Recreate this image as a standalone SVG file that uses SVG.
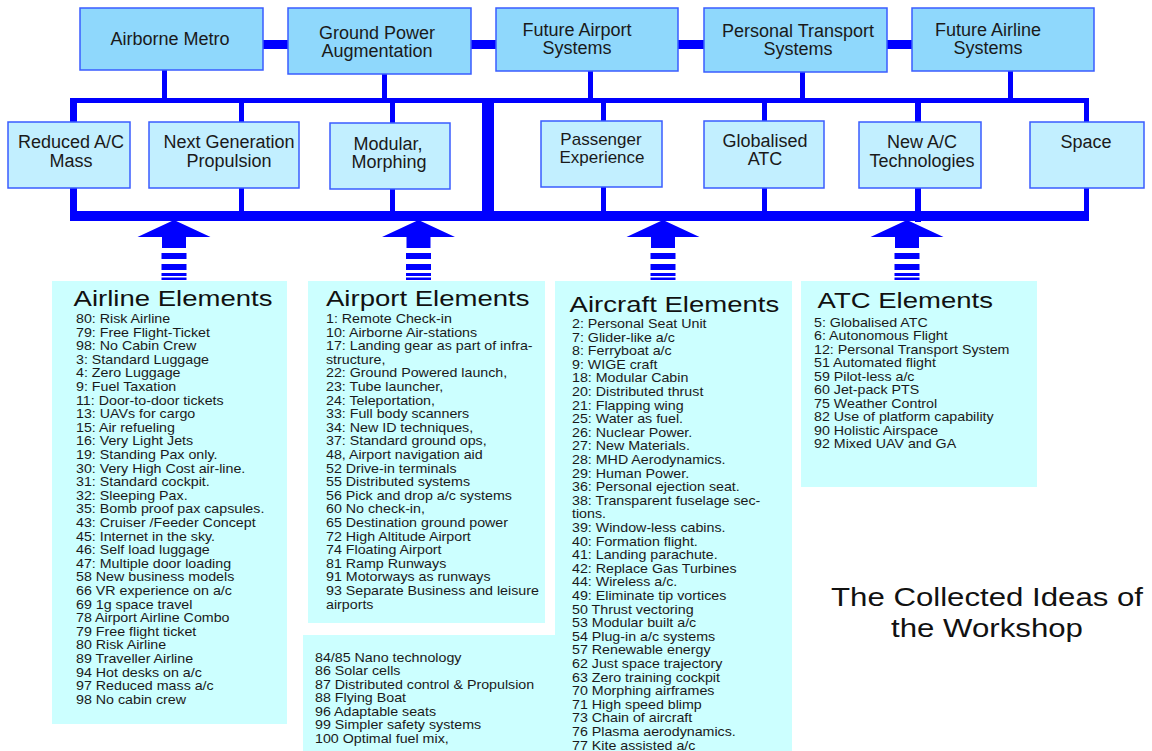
<svg xmlns="http://www.w3.org/2000/svg" width="1152" height="751" viewBox="0 0 1152 751">
<style>
.top{fill:#8fd8fc;stroke:#3a5cff;stroke-width:1.5}
.mid{fill:#c2efff;stroke:#3a5cff;stroke-width:1.5}
.list{fill:#ccffff}
.bar{fill:#0000ff}
.bt{font-family:"Liberation Sans",Arial,sans-serif;font-size:18px;fill:#1a1a1a;text-anchor:middle}
.sm{font-size:17px}
.ttl{font-family:"Liberation Sans",Arial,sans-serif;font-size:23px;fill:#111}
.it{font-family:"Liberation Sans",Arial,sans-serif;font-size:12.5px;fill:#1a1a1a}
.cap{font-family:"Liberation Sans",Arial,sans-serif;font-size:26px;fill:#111;text-anchor:middle}
</style>
<defs>
<g id="arrow">
<path d="M0,220 L36.5,237 L12,237 L12,248 L-12,248 L-12,237 L-36.5,237 Z"/>
<rect x="-12.5" y="253" width="25" height="6"/>
<rect x="-12.5" y="264" width="25" height="6"/>
<rect x="-12.5" y="273" width="25" height="3"/>
<rect x="-12.5" y="277.5" width="25" height="2.5"/>
</g>
</defs>
<rect width="1152" height="751" fill="#ffffff"/>

<g id="connectors" class="bar">
<rect x="263" y="40" width="25" height="9"/>
<rect x="471" y="40" width="25" height="9"/>
<rect x="678" y="40" width="26" height="9"/>
<rect x="887" y="40" width="25" height="9"/>
<rect x="162" y="70" width="5" height="30"/>
<rect x="382" y="74" width="5" height="26"/>
<rect x="588" y="71" width="5" height="29"/>
<rect x="800" y="72" width="5" height="28"/>
<rect x="1008" y="71" width="5" height="29"/>
<rect x="70" y="98" width="1019" height="5"/>
<rect x="70" y="98" width="7" height="123"/>
<rect x="239" y="98" width="5" height="123"/>
<rect x="390" y="98" width="5" height="123"/>
<rect x="482" y="98" width="12" height="123"/>
<rect x="601" y="98" width="5" height="123"/>
<rect x="762" y="98" width="5" height="123"/>
<rect x="915" y="98" width="6" height="124"/>
<rect x="1084" y="98" width="5" height="123"/>
<rect x="70" y="211" width="1019" height="10"/>
<use href="#arrow" transform="translate(174 0)"/>
<use href="#arrow" transform="translate(418.5 0)"/>
<use href="#arrow" transform="translate(663 0)"/>
<use href="#arrow" transform="translate(907 0)"/>
</g>

<g id="airborne-metro"><rect class="top" x="80" y="8" width="183" height="62"/><text class="bt" x="170" y="45">Airborne Metro</text></g>
<g id="ground-power"><rect class="top" x="288" y="8" width="183" height="66"/><text class="bt" x="377" y="39">Ground Power</text><text class="bt" x="377" y="57">Augmentation</text></g>
<g id="future-airport"><rect class="top" x="496" y="8" width="182" height="63"/><text class="bt" x="577" y="36">Future Airport</text><text class="bt" x="577" y="54">Systems</text></g>
<g id="personal-transport"><rect class="top" x="704" y="8" width="183" height="64"/><text class="bt" x="798" y="37">Personal Transport</text><text class="bt" x="798" y="55">Systems</text></g>
<g id="future-airline"><rect class="top" x="912" y="8" width="182" height="63"/><text class="bt" x="988" y="36">Future Airline</text><text class="bt" x="988" y="54">Systems</text></g>

<g id="reduced-mass"><rect class="mid" x="8" y="122" width="122" height="66"/><text class="bt" x="71" y="148">Reduced A/C</text><text class="bt" x="71" y="167">Mass</text></g>
<g id="next-gen"><rect class="mid" x="149" y="122" width="150" height="66"/><text class="bt" x="229" y="148">Next Generation</text><text class="bt" x="229" y="167">Propulsion</text></g>
<g id="modular"><rect class="mid" x="330" y="123" width="120" height="66"/><text class="bt" x="388" y="150">Modular,</text><text class="bt" x="389" y="168">Morphing</text></g>
<g id="passenger"><rect class="mid" x="541" y="121" width="121" height="66"/><text class="bt sm" x="601" y="145">Passenger</text><text class="bt sm" x="602" y="163">Experience</text></g>
<g id="globalised-atc"><rect class="mid" x="704" y="121" width="120" height="67"/><text class="bt" x="765" y="147">Globalised</text><text class="bt" x="765" y="165">ATC</text></g>
<g id="new-ac"><rect class="mid" x="859" y="122" width="122" height="66"/><text class="bt" x="922" y="148">New A/C</text><text class="bt" x="922" y="167">Technologies</text></g>
<g id="space"><rect class="mid" x="1030" y="122" width="114" height="66"/><text class="bt" x="1086" y="148">Space</text></g>

<g id="airline-elements">
<rect class="list" x="52" y="281" width="235" height="443"/>
<g transform="translate(76 0) scale(1.14 1)">
<text class="ttl" x="-2" y="306" transform="scale(1.05 1)">Airline Elements</text>
<text class="it" x="0" y="323">80: Risk Airline</text>
<text class="it" x="0" y="336.6">79: Free Flight-Ticket</text>
<text class="it" x="0" y="350.2">98: No Cabin Crew</text>
<text class="it" x="0" y="363.8">3: Standard Luggage</text>
<text class="it" x="0" y="377.4">4: Zero Luggage</text>
<text class="it" x="0" y="391">9: Fuel Taxation</text>
<text class="it" x="0" y="404.6">11: Door-to-door tickets</text>
<text class="it" x="0" y="418.2">13: UAVs for cargo</text>
<text class="it" x="0" y="431.8">15: Air refueling</text>
<text class="it" x="0" y="445.4">16: Very Light Jets</text>
<text class="it" x="0" y="459">19: Standing Pax only.</text>
<text class="it" x="0" y="472.6">30: Very High Cost air-line.</text>
<text class="it" x="0" y="486.2">31: Standard cockpit.</text>
<text class="it" x="0" y="499.8">32: Sleeping Pax.</text>
<text class="it" x="0" y="513.4">35: Bomb proof pax capsules.</text>
<text class="it" x="0" y="527">43: Cruiser /Feeder Concept</text>
<text class="it" x="0" y="540.6">45: Internet in the sky.</text>
<text class="it" x="0" y="554.2">46: Self load luggage</text>
<text class="it" x="0" y="567.8">47: Multiple door loading</text>
<text class="it" x="0" y="581.4">58 New business models</text>
<text class="it" x="0" y="595">66 VR experience on a/c</text>
<text class="it" x="0" y="608.6">69 1g space travel</text>
<text class="it" x="0" y="622.2">78 Airport Airline Combo</text>
<text class="it" x="0" y="635.8">79 Free flight ticket</text>
<text class="it" x="0" y="649.4">80 Risk Airline</text>
<text class="it" x="0" y="663">89 Traveller Airline</text>
<text class="it" x="0" y="676.6">94 Hot desks on a/c</text>
<text class="it" x="0" y="690.2">97 Reduced mass a/c</text>
<text class="it" x="0" y="703.8">98 No cabin crew</text>
</g>
</g>

<g id="airport-elements">
<rect class="list" x="308" y="281" width="237" height="342"/>
<g transform="translate(326 0) scale(1.14 1)">
<text class="ttl" x="0" y="306" transform="scale(1.05 1)">Airport Elements</text>
<text class="it" x="0" y="323">1: Remote Check-in</text>
<text class="it" x="0" y="336.6">10: Airborne Air-stations</text>
<text class="it" x="0" y="350.2">17: Landing gear as part of infra-</text>
<text class="it" x="0" y="363.8">structure,</text>
<text class="it" x="0" y="377.4">22: Ground Powered launch,</text>
<text class="it" x="0" y="391">23: Tube launcher,</text>
<text class="it" x="0" y="404.6">24: Teleportation,</text>
<text class="it" x="0" y="418.2">33: Full body scanners</text>
<text class="it" x="0" y="431.8">34: New ID techniques,</text>
<text class="it" x="0" y="445.4">37: Standard ground ops,</text>
<text class="it" x="0" y="459">48, Airport navigation aid</text>
<text class="it" x="0" y="472.6">52 Drive-in terminals</text>
<text class="it" x="0" y="486.2">55 Distributed systems</text>
<text class="it" x="0" y="499.8">56 Pick and drop a/c systems</text>
<text class="it" x="0" y="513.4">60 No check-in,</text>
<text class="it" x="0" y="527">65 Destination ground power</text>
<text class="it" x="0" y="540.6">72 High Altitude Airport</text>
<text class="it" x="0" y="554.2">74 Floating Airport</text>
<text class="it" x="0" y="567.8">81 Ramp Runways</text>
<text class="it" x="0" y="581.4">91 Motorways as runways</text>
<text class="it" x="0" y="595">93 Separate Business and leisure</text>
<text class="it" x="0" y="608.6">airports</text>
</g>
</g>

<g id="other-elements">
<rect class="list" x="303" y="635" width="252" height="116"/>
<g transform="translate(315 0) scale(1.14 1)">
<text class="it" x="0" y="662">84/85 Nano technology</text>
<text class="it" x="0" y="675.5">86 Solar cells</text>
<text class="it" x="0" y="689">87 Distributed control &amp; Propulsion</text>
<text class="it" x="0" y="702.5">88 Flying Boat</text>
<text class="it" x="0" y="716">96 Adaptable seats</text>
<text class="it" x="0" y="729.5">99 Simpler safety systems</text>
<text class="it" x="0" y="743">100 Optimal fuel mix,</text>
</g>
</g>

<g id="aircraft-elements">
<rect class="list" x="555" y="281" width="237" height="470"/>
<g transform="translate(572 0) scale(1.14 1)">
<text class="ttl" x="-2" y="312" transform="scale(1.05 1)">Aircraft Elements</text>
<text class="it" x="0" y="328">2: Personal Seat Unit</text>
<text class="it" x="0" y="341.6">7: Glider-like a/c</text>
<text class="it" x="0" y="355.2">8: Ferryboat a/c</text>
<text class="it" x="0" y="368.8">9: WIGE craft</text>
<text class="it" x="0" y="382.4">18: Modular Cabin</text>
<text class="it" x="0" y="396">20: Distributed thrust</text>
<text class="it" x="0" y="409.6">21: Flapping wing</text>
<text class="it" x="0" y="423.2">25: Water as fuel.</text>
<text class="it" x="0" y="436.8">26: Nuclear Power.</text>
<text class="it" x="0" y="450.4">27: New Materials.</text>
<text class="it" x="0" y="464">28: MHD Aerodynamics.</text>
<text class="it" x="0" y="477.6">29: Human Power.</text>
<text class="it" x="0" y="491.2">36: Personal ejection seat.</text>
<text class="it" x="0" y="504.8">38: Transparent fuselage sec-</text>
<text class="it" x="0" y="518.4">tions.</text>
<text class="it" x="0" y="532">39: Window-less cabins.</text>
<text class="it" x="0" y="545.6">40: Formation flight.</text>
<text class="it" x="0" y="559.2">41: Landing parachute.</text>
<text class="it" x="0" y="572.8">42: Replace Gas Turbines</text>
<text class="it" x="0" y="586.4">44: Wireless a/c.</text>
<text class="it" x="0" y="600">49: Eliminate tip vortices</text>
<text class="it" x="0" y="613.6">50 Thrust vectoring</text>
<text class="it" x="0" y="627.2">53 Modular built a/c</text>
<text class="it" x="0" y="640.8">54 Plug-in a/c systems</text>
<text class="it" x="0" y="654.4">57 Renewable energy</text>
<text class="it" x="0" y="668">62 Just space trajectory</text>
<text class="it" x="0" y="681.6">63 Zero training cockpit</text>
<text class="it" x="0" y="695.2">70 Morphing airframes</text>
<text class="it" x="0" y="708.8">71 High speed blimp</text>
<text class="it" x="0" y="722.4">73 Chain of aircraft</text>
<text class="it" x="0" y="736">76 Plasma aerodynamics.</text>
<text class="it" x="0" y="749.6">77 Kite assisted a/c</text>
</g>
</g>

<g id="atc-elements">
<rect class="list" x="801" y="281" width="236" height="206"/>
<g transform="translate(814 0) scale(1.14 1)">
<text class="ttl" x="3" y="308" transform="scale(1.05 1)">ATC Elements</text>
<text class="it" x="0" y="327">5: Globalised ATC</text>
<text class="it" x="0" y="340.5">6: Autonomous Flight</text>
<text class="it" x="0" y="354">12: Personal Transport System</text>
<text class="it" x="0" y="367.5">51 Automated flight</text>
<text class="it" x="0" y="381">59 Pilot-less a/c</text>
<text class="it" x="0" y="394.5">60 Jet-pack PTS</text>
<text class="it" x="0" y="408">75 Weather Control</text>
<text class="it" x="0" y="421.5">82 Use of platform capability</text>
<text class="it" x="0" y="435">90 Holistic Airspace</text>
<text class="it" x="0" y="448.5">92 Mixed UAV and GA</text>
</g>
</g>

<g id="caption" transform="translate(987 0) scale(1.2 1)">
<text class="cap" x="0" y="606">The Collected Ideas of</text>
<text class="cap" x="0" y="637">the Workshop</text>
</g>
</svg>
